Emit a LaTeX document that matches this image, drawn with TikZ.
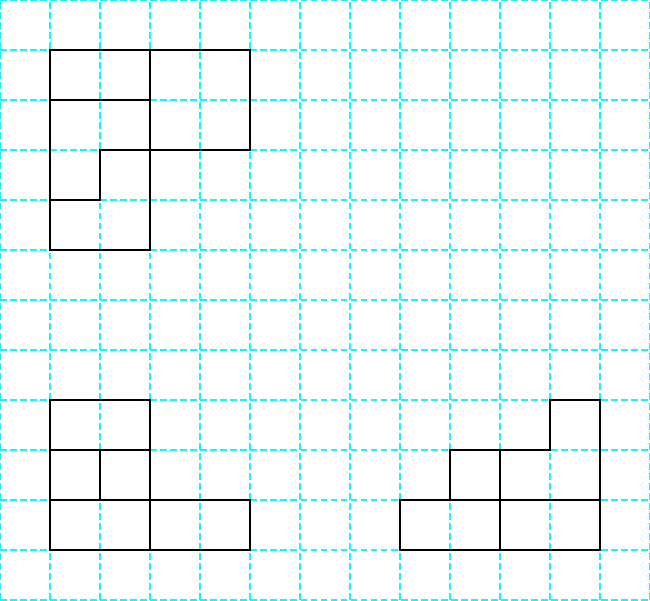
\documentclass[tikz,border=0pt]{standalone}
\usepackage{tikz}
\usepackage{xcolor}
\definecolor{gridcyan}{HTML}{00FFFF}

\begin{document}
\begin{tikzpicture}[
      gridline/.style={gridcyan, line width=0.75pt, dash pattern=on 3.9pt off 1.8pt},
      piece/.style={draw=black, line width=1.1pt, line join=miter}
    ]
      \useasboundingbox (0,0) rectangle (13,12);
      \foreach \x in {0,...,13}
        \draw[gridline] (\x,0) -- (\x,12);
      \foreach \y in {0,...,12}
        \draw[gridline] (0,\y) -- (13,\y);

      % top figure
      \draw[piece] (1,10) rectangle (3,11);
      \draw[piece] (3,9) rectangle (5,11);
      \draw[piece] (1,10) -- (3,10) -- (3,9) -- (2,9) -- (2,8) -- (1,8) -- cycle;
      \draw[piece] (2,9) -- (3,9) -- (3,7) -- (1,7) -- (1,8) -- (2,8) -- cycle;

      % bottom left figure
      \draw[piece] (1,3) rectangle (3,4);
      \draw[piece] (1,2) rectangle (2,3);
      \draw[piece] (2,2) rectangle (3,3);
      \draw[piece] (1,1) rectangle (3,2);
      \draw[piece] (3,1) rectangle (5,2);

      % bottom right figure
      \draw[piece] (8,1) rectangle (10,2);
      \draw[piece] (10,1) rectangle (12,2);
      \draw[piece] (9,2) rectangle (10,3);
      \draw[piece] (10,2) -- (12,2) -- (12,4) -- (11,4) -- (11,3) -- (10,3) -- cycle;
    \end{tikzpicture}
\end{document}
